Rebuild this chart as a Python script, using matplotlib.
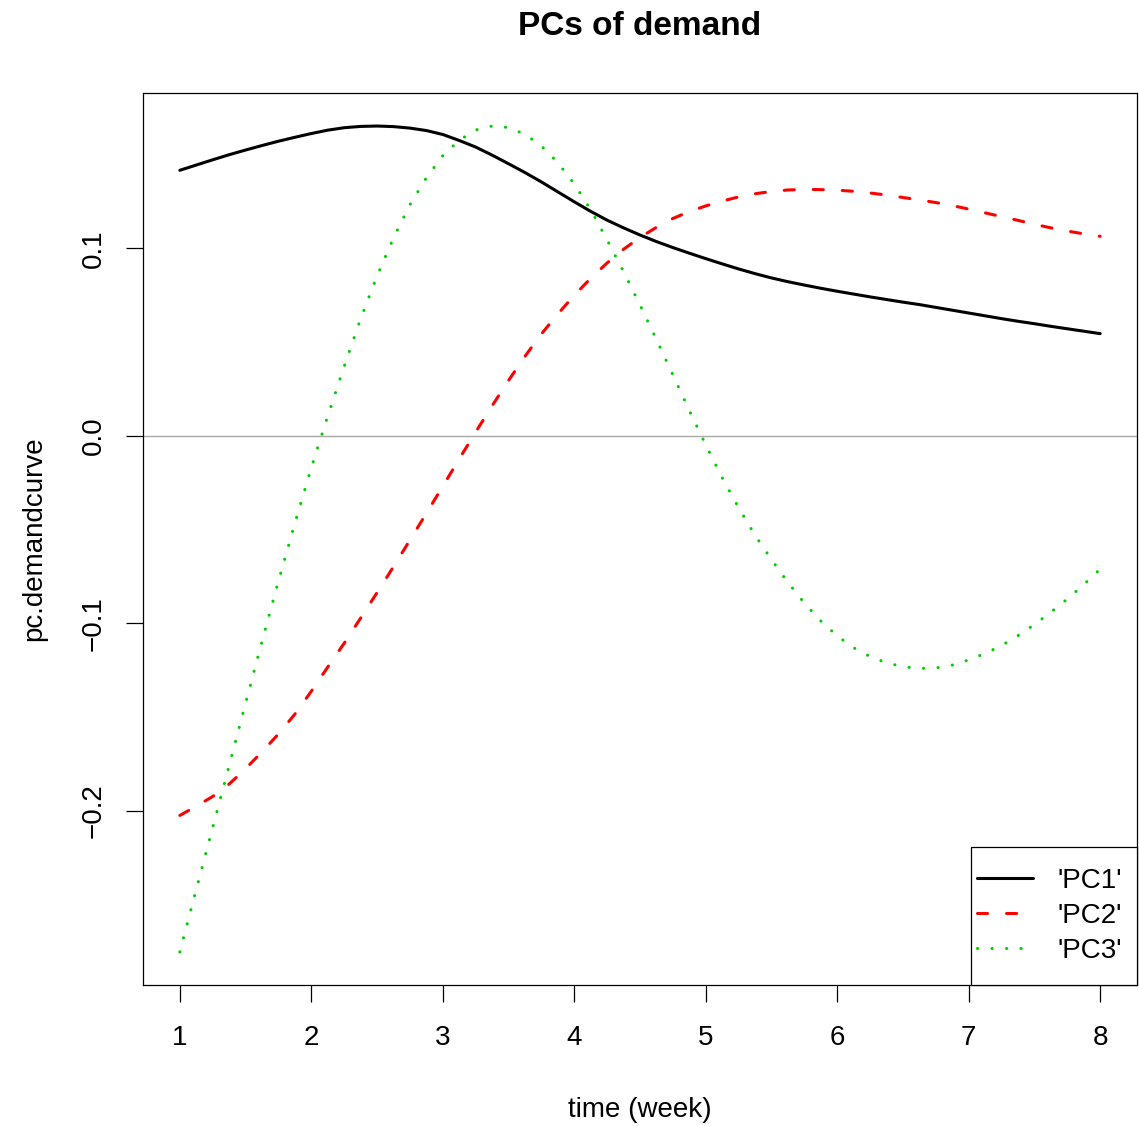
import matplotlib.pyplot as plt
import numpy as np
from matplotlib.patches import Rectangle

plt.rcParams['font.family'] = ['Liberation Sans', 'DejaVu Sans']

# principal component curves evaluated every 1/8 week
weeks = np.linspace(1, 8, 57)
pc1 = [0.1416, 0.1444, 0.1472, 0.1499, 0.1524, 0.1548, 0.1571, 0.1592,
       0.1612, 0.1630, 0.1643, 0.1650, 0.1652, 0.1649, 0.1641, 0.1628,
       0.1607, 0.1575, 0.1540, 0.1497, 0.1451, 0.1404, 0.1354, 0.1301,
       0.1248, 0.1197, 0.1150, 0.1109, 0.1071, 0.1036, 0.1004, 0.0974,
       0.0945, 0.0917, 0.0890, 0.0865, 0.0842, 0.0822, 0.0804, 0.0787,
       0.0771, 0.0756, 0.0741, 0.0727, 0.0713, 0.0700, 0.0685, 0.0670,
       0.0655, 0.0640, 0.0625, 0.0611, 0.0598, 0.0584, 0.0571, 0.0558,
       0.0545]
pc2 = [-0.2024, -0.1975, -0.1923, -0.1857, -0.1775, -0.1685, -0.1590, -0.1484,
       -0.1362, -0.1233, -0.1106, -0.0972, -0.0836, -0.0698, -0.0556, -0.0413,
       -0.0269, -0.0123, 0.0020, 0.0160, 0.0295, 0.0424, 0.0543, 0.0650,
       0.0749, 0.0840, 0.0922, 0.0995, 0.1058, 0.1112, 0.1159, 0.1196,
       0.1226, 0.1252, 0.1274, 0.1291, 0.1303, 0.1311, 0.1314, 0.1313,
       0.1310, 0.1304, 0.1295, 0.1284, 0.1271, 0.1258, 0.1244, 0.1228,
       0.1209, 0.1189, 0.1169, 0.1149, 0.1128, 0.1109, 0.1092, 0.1077,
       0.1064]
pc3 = [-0.2752, -0.2418, -0.2089, -0.1759, -0.1426, -0.1096, -0.0775, -0.0466,
       -0.0170, 0.0105, 0.0370, 0.0624, 0.0852, 0.1055, 0.1232, 0.1376,
       0.1494, 0.1576, 0.1631, 0.1652, 0.1644, 0.1608, 0.1546, 0.1457,
       0.1343, 0.1206, 0.1045, 0.0875, 0.0698, 0.0514, 0.0325, 0.0135,
       -0.0048, -0.0224, -0.0383, -0.0530, -0.0660, -0.0782, -0.0891, -0.0987,
       -0.1067, -0.1130, -0.1177, -0.1210, -0.1231, -0.1240, -0.1238, -0.1222,
       -0.1195, -0.1160, -0.1118, -0.1065, -0.1006, -0.0940, -0.0870, -0.0793,
       -0.0710]

series_labels = ["'PC1'", "'PC2'", "'PC3'"]
x_ticks = [1, 2, 3, 4, 5, 6, 7, 8]
y_ticks = [-0.2, -0.1, 0.0, 0.1]
y_ticklabels = ['\u22120.2', '\u22120.1', '0.0', '0.1']

colors = ['black', 'red', '#00cd00']
styles = ['-', (0, (3.3, 6.2)), (0, (0.05, 4.7))]

fig = plt.figure(figsize=(11.39, 11.26), dpi=100)
ax = fig.add_axes([143 / 1139, 141 / 1126, 994 / 1139, 892 / 1126])

ax.axhline(0, color='#a8a8a8', lw=1.0, zorder=1)
for vals, col, ls, lab in zip([pc1, pc2, pc3], colors, styles, series_labels):
    ax.plot(weeks, vals, color=col, lw=2.2, linestyle=ls,
            dash_capstyle='round', solid_capstyle='round', label=lab, zorder=2)

# R-style 4% padding on both axes
allv = np.concatenate([pc1, pc2, pc3])
ypad = 0.04 * (allv.max() - allv.min())
xpad = 0.04 * (weeks[-1] - weeks[0])
ax.set_xlim(weeks[0] - xpad, weeks[-1] + xpad)
ax.set_ylim(allv.min() - ypad, allv.max() + ypad)

ax.set_xticks(x_ticks)
ax.set_yticks(y_ticks)
ax.set_yticklabels(y_ticklabels)
ax.tick_params(length=12, width=0.9, labelsize=20, direction='out')
ax.tick_params(axis='x', pad=17)
ax.tick_params(axis='y', pad=14, labelrotation=90)
for t in ax.get_yticklabels():
    t.set_va('center')
for s in ax.spines.values():
    s.set_linewidth(0.9)

ax.set_xlabel('time (week)', fontsize=20, labelpad=33)
ax.set_ylabel('pc.demandcurve', fontsize=20, labelpad=24)
ax.set_title('PCs of demand', fontsize=24, fontweight='bold', pad=42)

# legend box in the bottom-right corner, with roomy padding
box_x, box_w, box_h = 0.833, 0.167, 0.155
ax.add_patch(Rectangle((box_x, 0), box_w, box_h, transform=ax.transAxes,
                       facecolor='white', edgecolor='black', lw=0.9,
                       zorder=4, clip_on=False))
leg = ax.legend(loc='center', bbox_to_anchor=(0.912, box_h / 2),
                frameon=False, fontsize=20, handlelength=2.0,
                handletextpad=0.9, labelspacing=0.33, borderpad=0.2)
leg.set_zorder(5)

fig.savefig('out.png', dpi=100)
